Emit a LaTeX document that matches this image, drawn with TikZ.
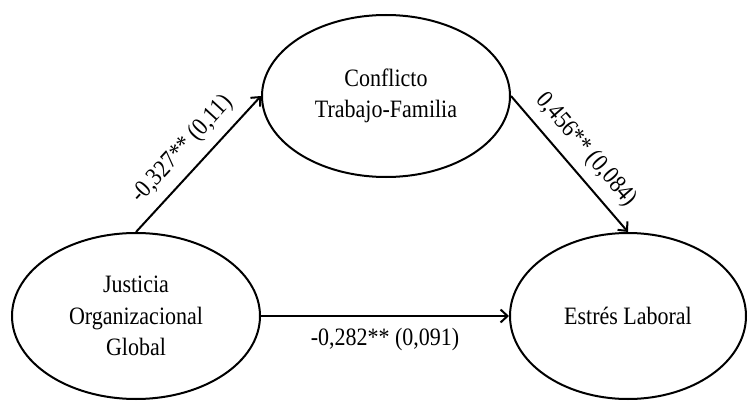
\documentclass[tikz,border=0pt]{standalone}
\usepackage{fontspec}
\setmainfont{Liberation Serif}[FakeStretch=0.88]
\usetikzlibrary{shapes.geometric,arrows.meta}

\begin{document}
\begin{tikzpicture}[x=1pt,y=1pt]
\tikzstyle{every node}+=[font=\fontsize{25}{31.5}\selectfont]
\tikzstyle{var}=[draw,ellipse,line width=2pt,inner sep=0pt,align=center]
\tikzstyle{link}=[line width=2pt,-{Straight Barb[length=7pt,width=13pt]}]
\useasboundingbox (0,0) rectangle (748,400);
% latent variables
\node [var,minimum width=248pt,minimum height=166pt] (jog) at (136,84) {Justicia\\Organizacional\\Global};
\node [var,minimum width=248pt,minimum height=162pt] (ctf) at (386,304) {Conflicto\\Trabajo-Familia};
\node [var,minimum width=236pt,minimum height=166pt] (est) at (628,84) {Estr\'es Laboral};
% paths
\draw [link] (jog.north) -- (ctf.west) node [midway,sloped,above=6pt] {-0,327** (0,11)};
\draw [link] (ctf.east) -- (est.north) node [midway,sloped,above=6pt] {0,456** (0,084)};
\draw [link] (jog.east) -- (est.west) node [midway,below=8pt] {-0,282** (0,091)};
\end{tikzpicture}
\end{document}
